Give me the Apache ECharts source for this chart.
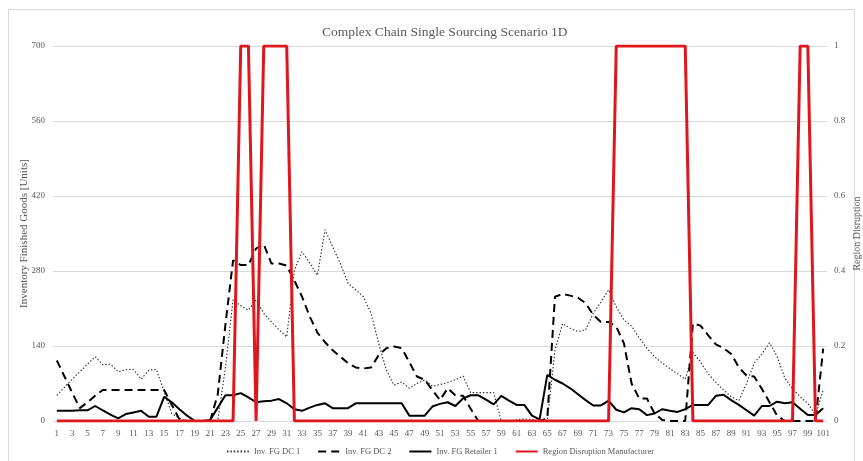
<!DOCTYPE html>
<html>
<head>
<meta charset="utf-8">
<script src="https://cdn.jsdelivr.net/npm/echarts@6/dist/echarts.min.js"></script>
<style>
  html, body { margin: 0; padding: 0; background: #fff; }
  #chart { width: 863px; height: 461px; }
</style>
</head>
<body>
<div id="chart"></div>
<script>
// Simulation periods 1..101
const periods = Array.from({ length: 101 }, (_, i) => String(i + 1));

// Inventory of finished goods at distribution centre 1 [units]
const invDC1 = [
  48, 63, 78, 92, 106, 120, 105, 106, 92, 96,
  96, 78, 95, 96, 55, 14, 5, 0, 0, 0,
  0, 0, 100, 226, 215, 207, 226, 201, 185, 170,
  157, 282, 316, 295, 272, 357, 325, 294, 257, 245,
  232, 201, 145, 95, 67, 73, 61, 70, 77, 65,
  68, 72, 77, 84, 53, 53, 53, 53, 0, 0,
  2, 4, 3, 0, 0, 132, 182, 173, 167, 170,
  201, 222, 245, 213, 189, 177, 155, 136, 120, 108,
  98, 88, 78, 128, 110, 88, 72, 58, 45, 38,
  70, 108, 125, 146, 120, 80, 60, 45, 33, 11,
  58
];

// Inventory of finished goods at distribution centre 2 [units]
const invDC2 = [
  113, 83, 53, 24, 35, 47, 58, 58, 58, 58,
  58, 58, 58, 58, 58, 30, 3, 0, 0, 0,
  0, 50, 180, 300, 291, 291, 322, 330, 294, 294,
  290, 262, 232, 195, 165, 147, 132, 120, 108, 100,
  98, 100, 123, 136, 139, 136, 110, 83, 77, 58,
  39, 61, 48, 47, 23, 0, 0, 0, 0, 0,
  0, 0, 0, 0, 5, 232, 237, 234, 230, 220,
  198, 185, 185, 176, 145, 70, 42, 42, 14, 2,
  0, 0, 0, 182, 178, 160, 143, 136, 125, 100,
  85, 83, 60, 35, 10, 0, 0, 0, 0, 0,
  135
];

// Inventory of finished goods at retailer 1 [units]
const invRetailer1 = [
  19, 19, 19, 20, 20, 28, 20, 12, 5, 13,
  16, 19, 8, 8, 45, 35, 22, 10, 0, 0,
  2, 25, 48, 48, 52, 44, 35, 37, 38, 41,
  33, 22, 19, 25, 30, 33, 24, 24, 24, 33,
  33, 33, 33, 33, 33, 33, 10, 10, 10, 27,
  32, 35, 28, 42, 48, 48, 40, 31, 47, 38,
  30, 30, 10, 3, 86, 77, 70, 61, 50, 39,
  29, 29, 38, 21, 16, 24, 22, 11, 14, 22,
  19, 17, 22, 30, 30, 30, 47, 49, 39, 30,
  20, 10, 28, 28, 36, 33, 35, 23, 11, 11,
  24
];

// Manufacturer region disruption flag (0 = normal, 1 = disrupted)
const disruption = [
  0, 0, 0, 0, 0, 0, 0, 0, 0, 0,
  0, 0, 0, 0, 0, 0, 0, 0, 0, 0,
  0, 0, 0, 0, 1, 1, 0, 1, 1, 1,
  1, 0, 0, 0, 0, 0, 0, 0, 0, 0,
  0, 0, 0, 0, 0, 0, 0, 0, 0, 0,
  0, 0, 0, 0, 0, 0, 0, 0, 0, 0,
  0, 0, 0, 0, 0, 0, 0, 0, 0, 0,
  0, 0, 0, 1, 1, 1, 1, 1, 1, 1,
  1, 1, 1, 0, 0, 0, 0, 0, 0, 0,
  0, 0, 0, 0, 0, 0, 0, 1, 1, 0,
  0
];

const leftTicks = [0, 140, 280, 420, 560, 700];
const rightTicks = [0, 0.2, 0.4, 0.6, 0.8, 1];

const serif = '"Liberation Serif", "DejaVu Serif", serif';
const grey = '#595959';

const chart = echarts.init(document.getElementById('chart'), null, { renderer: 'canvas' });

chart.setOption({
  backgroundColor: '#ffffff',
  animation: false,
  title: {
    text: 'Complex Chain Single Sourcing Scenario 1D',
    left: 317,
    top: 20,
    textStyle: { fontFamily: serif, fontSize: 13.5, fontWeight: 'normal', color: grey }
  },
  graphic: [{
    type: 'rect',
    shape: { x: 8.5, y: 9.5, width: 846, height: 460 },
    style: { fill: 'none', stroke: '#d9d9d9', lineWidth: 1 },
    silent: true
  }],
  legend: {
    top: 442,
    left: 221,
    itemWidth: 22,
    itemHeight: 10,
    itemGap: 17,
    itemStyle: { opacity: 0 },
    textStyle: { fontFamily: serif, fontSize: 8.5, color: grey },
    data: ['Inv. FG DC 1', 'Inv. FG DC 2', 'Inv. FG Retailer 1', 'Region Disruption Manufacturer']
  },
  grid: { left: 53, right: 36, top: 46, bottom: 40, outerBoundsMode: 'none', containLabel: false },
  xAxis: {
    type: 'category',
    data: periods,
    boundaryGap: true,
    axisLine: { show: false },
    axisTick: { show: false },
    axisLabel: { interval: 1, fontFamily: serif, fontSize: 9, color: grey, margin: 8 }
  },
  yAxis: [
    {
      type: 'value',
      min: leftTicks[0],
      max: leftTicks[leftTicks.length - 1],
      interval: 140,
      name: 'Inventory Finished Goods [Units]',
      nameLocation: 'middle',
      nameRotate: 90,
      nameGap: 23,
      nameMoveOverlap: false,
      nameTextStyle: { fontFamily: serif, fontSize: 11, color: grey },
      axisLine: { show: false },
      axisTick: { show: false },
      axisLabel: { fontFamily: serif, fontSize: 9, color: grey, margin: 8 },
      splitLine: { lineStyle: { color: '#d9d9d9', width: 1 } }
    },
    {
      type: 'value',
      min: rightTicks[0],
      max: rightTicks[rightTicks.length - 1],
      interval: 0.2,
      name: 'Region Disruption',
      nameLocation: 'middle',
      nameRotate: 90,
      nameGap: 25,
      nameMoveOverlap: false,
      nameTextStyle: { fontFamily: serif, fontSize: 10, color: grey },
      axisLine: { show: false },
      axisTick: { show: false },
      axisLabel: { fontFamily: serif, fontSize: 9, color: grey, margin: 7 },
      splitLine: { show: false }
    }
  ],
  series: [
    {
      name: 'Inv. FG DC 1',
      type: 'line',
      data: invDC1,
      yAxisIndex: 0,
      symbol: 'none',
      z: 3,
      itemStyle: { color: '#262626' },
      lineStyle: { color: '#262626', width: 1.1, type: [1.4, 2] }
    },
    {
      name: 'Inv. FG DC 2',
      type: 'line',
      data: invDC2,
      yAxisIndex: 0,
      symbol: 'none',
      z: 3,
      itemStyle: { color: '#000000' },
      lineStyle: { color: '#000000', width: 2, type: [8, 5] }
    },
    {
      name: 'Inv. FG Retailer 1',
      type: 'line',
      data: invRetailer1,
      yAxisIndex: 0,
      symbol: 'none',
      z: 3,
      itemStyle: { color: '#000000' },
      lineStyle: { color: '#000000', width: 2 }
    },
    {
      name: 'Region Disruption Manufacturer',
      type: 'line',
      data: disruption,
      yAxisIndex: 1,
      symbol: 'none',
      z: 4,
      itemStyle: { color: '#e0161c' },
      lineStyle: { color: '#e0161c', width: 3 }
    }
  ]
});
</script>
</body>
</html>
